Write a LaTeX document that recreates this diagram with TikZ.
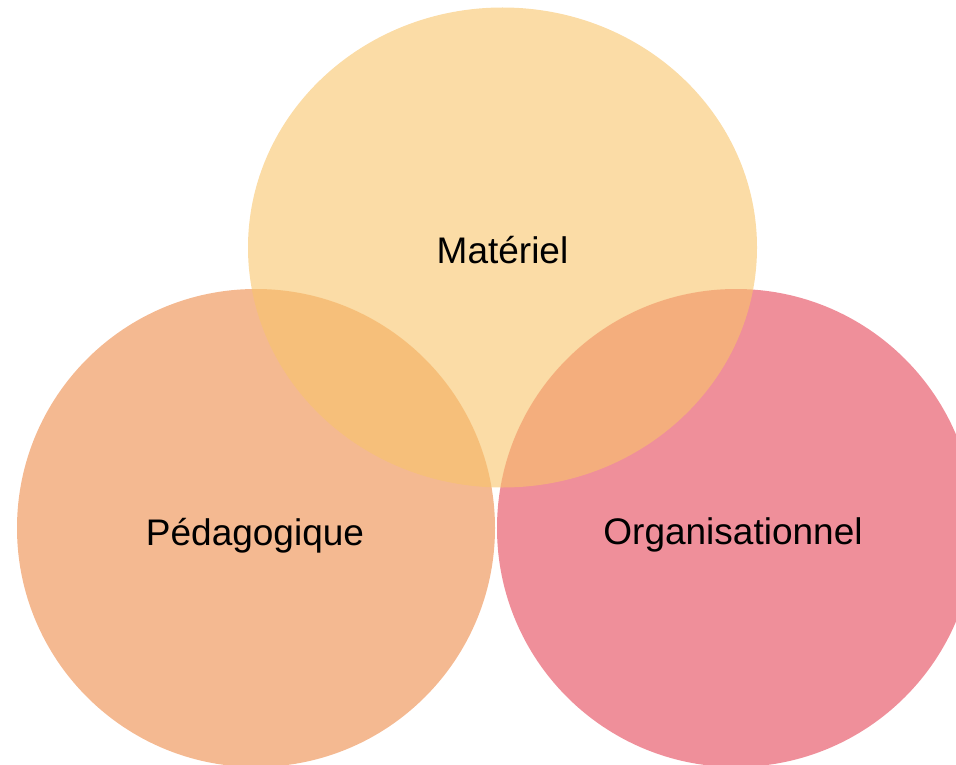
\documentclass[tikz,border=0pt]{standalone}
\usepackage{fontspec}
\setmainfont{Liberation Sans}
\usepackage{tikz}
\definecolor{vennpeach}{RGB}{237,138,72}
\definecolor{vennrose}{RGB}{228,68,87}
\definecolor{venngold}{RGB}{248,196,106}

\begin{document}
\begin{tikzpicture}[x=1pt,y=-1pt,
    blob/.style={fill opacity=0.6},
    venntext/.style={anchor=base,text=black,font=\fontsize{37}{42}\selectfont}]
    \useasboundingbox (0,0) rectangle (956,765);

    % Circles (left, right, then top over both)
    \fill[blob,vennpeach] (256,528) circle (239pt);
    \fill[blob,vennrose] (736,528) circle (239pt);
    \fill[blob,venngold] (502.5,247.5) ellipse (254.5pt and 240pt);

    % Labels
    \node[venntext] (materiel) at (502.5,263) {Matériel};
    \node[venntext] (pedago) at (255,545) {Pédagogique};
    \node[venntext] (orga) at (733,544) {Organisationnel};
\end{tikzpicture}
\end{document}
